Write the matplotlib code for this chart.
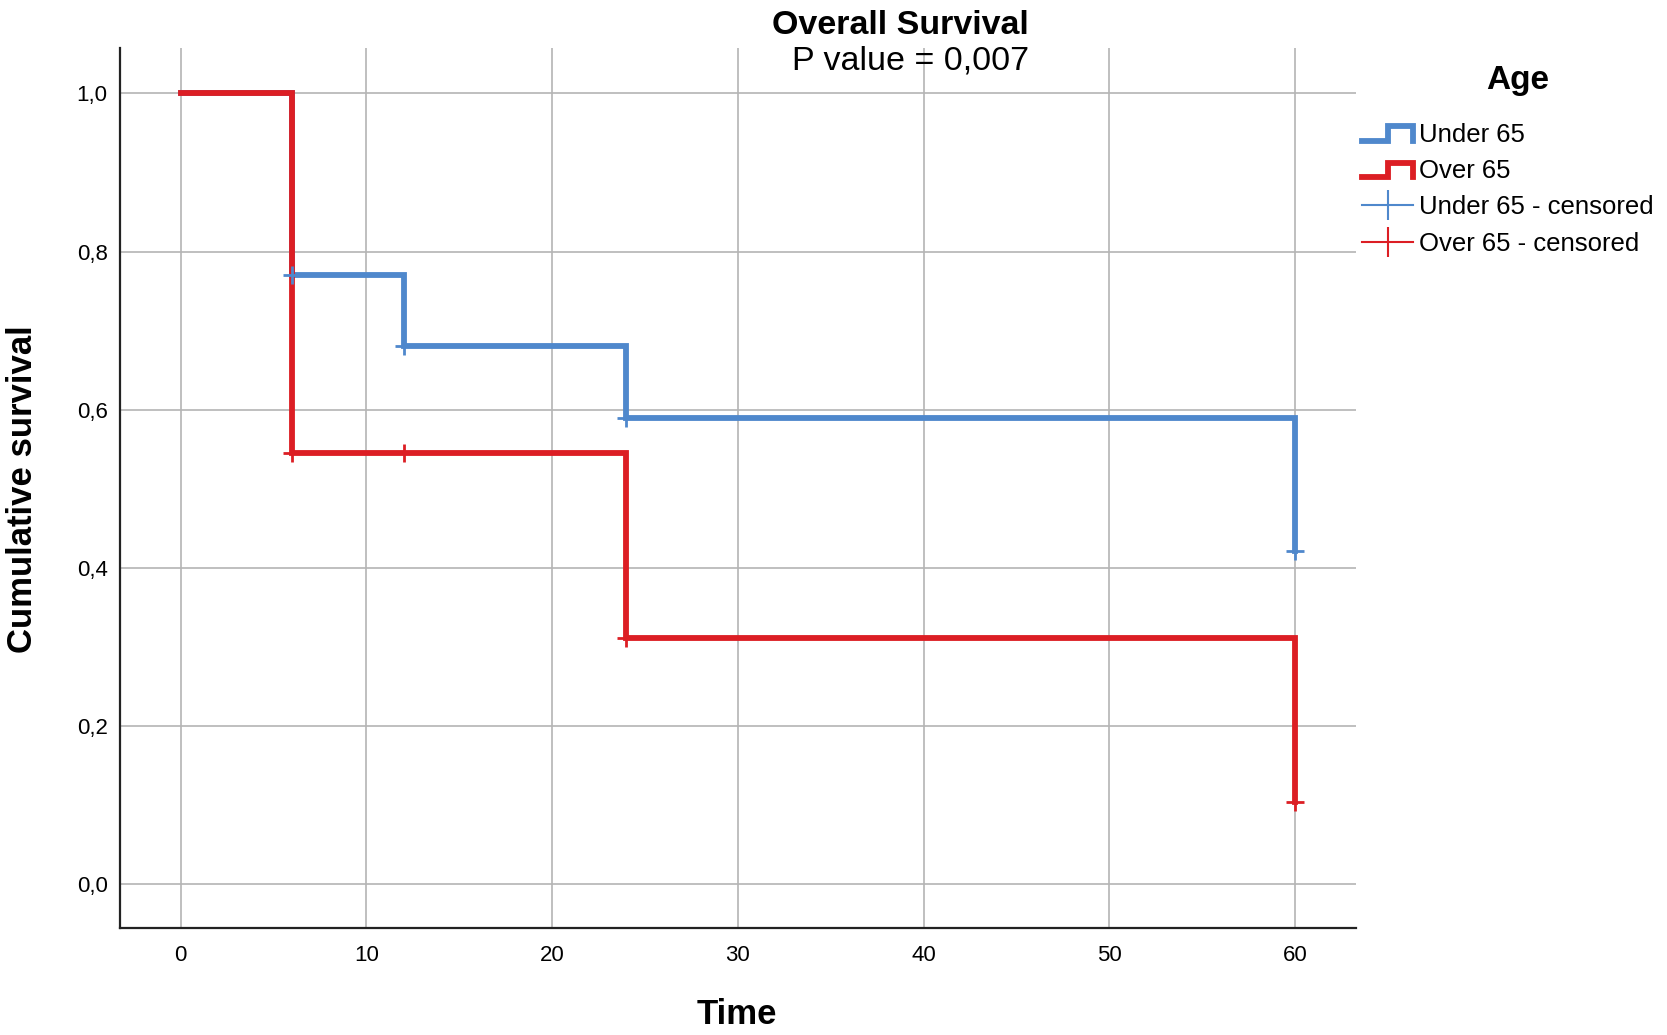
import matplotlib
matplotlib.use("Agg")
import matplotlib.pyplot as plt
from matplotlib.lines import Line2D
from matplotlib.legend_handler import HandlerBase

plt.rcParams['font.family'] = ['Liberation Sans', 'DejaVu Sans']

# ---- data ----
under_times = [0, 6, 12, 24, 60]
under_surv = [1.0, 0.771, 0.681, 0.590, 0.422]
under_cens_t = [6, 12, 24, 60]
under_cens_s = [0.771, 0.681, 0.590, 0.422]

over_times = [0, 6, 24, 60]
over_surv = [1.0, 0.545, 0.312, 0.104]
over_cens_t = [6, 12, 24, 60]
over_cens_s = [0.545, 0.545, 0.312, 0.104]

x_ticks = [0, 10, 20, 30, 40, 50, 60]
y_ticks = [0.0, 0.2, 0.4, 0.6, 0.8, 1.0]
y_ticklabels = ["0,0", "0,2", "0,4", "0,6", "0,8", "1,0"]

labels = ["Under 65", "Over 65", "Under 65 - censored", "Over 65 - censored"]
BLUE = "#4f88cc"
RED = "#dc1e24"

W, H = 1667, 1035
fig = plt.figure(figsize=(W / 100, H / 100), dpi=100)
ax = fig.add_axes([120 / W, 1 - 928 / H, (1355.5 - 120) / W, (928 - 48) / H])

ax.set_xlim(-3.27, 63.26)
ax.set_ylim(-0.055, 1.0575)

ax.grid(True, color="#b4b4b4", linewidth=1.2, zorder=0)
ax.set_axisbelow(True)

lu, = ax.step(under_times, under_surv, where="post", color=BLUE, lw=4.2,
              solid_joinstyle="miter", zorder=2)
lo, = ax.step(over_times, over_surv, where="post", color=RED, lw=4.2,
              solid_joinstyle="miter", zorder=3)
cu, = ax.plot(under_cens_t, under_cens_s, ls="none", marker="+", ms=13, mew=2,
              color=BLUE, zorder=4)
co, = ax.plot(over_cens_t, over_cens_s, ls="none", marker="+", ms=13, mew=2,
              color=RED, zorder=4)

ax.set_xticks(x_ticks)
ax.set_xticklabels([str(t) for t in x_ticks])
ax.set_yticks(y_ticks)
ax.set_yticklabels(y_ticklabels)
ax.tick_params(axis="both", length=0, labelsize=16)
ax.tick_params(axis="x", pad=12)
ax.tick_params(axis="y", pad=9)

for s in ["top", "right"]:
    ax.spines[s].set_visible(False)
for s in ["left", "bottom"]:
    ax.spines[s].set_linewidth(1.6)
    ax.spines[s].set_color("#222222")

fig.text(23 / W, 1 - 489 / H, "Cumulative survival", rotation=90, fontsize=25,
         fontweight="bold", ha="center", va="center")
fig.text(737 / W, 1 - 1015 / H, "Time", fontsize=25, fontweight="bold",
         ha="center", va="center")
fig.text(1029 / W, 1 - 25 / H, "Overall Survival", fontsize=24.5,
         fontweight="bold", ha="right", va="center")
fig.text(1029 / W, 1 - 61 / H, "P value = 0,007", fontsize=24.5,
         ha="right", va="center")

# legend title
fig.text(1518 / W, 1 - 80 / H, "Age", fontsize=24, fontweight="bold",
         ha="center", va="center")


class StepHandler(HandlerBase):
    def create_artists(self, legend, orig_handle, xdescent, ydescent, width,
                       height, fontsize, trans):
        x0, y0 = -xdescent, -ydescent
        xm = x0 + 0.5 * width
        lo_y = y0 + 0.05 * height
        hi_y = y0 + 0.85 * height
        xs = [x0, xm, xm, x0 + width, x0 + width]
        ys = [lo_y, lo_y, hi_y, hi_y, lo_y]
        ln = Line2D(xs, ys, color=orig_handle.get_color(),
                    lw=orig_handle.get_linewidth(), solid_joinstyle="miter")
        ln.set_transform(trans)
        return [ln]


h_cu = Line2D([], [], color=BLUE, lw=1.5, marker="|", ms=22, mew=1.5)
h_co = Line2D([], [], color=RED, lw=1.5, marker="|", ms=22, mew=1.5)

leg = fig.legend([lu, lo, h_cu, h_co], labels,
                 handler_map={lu: StepHandler(), lo: StepHandler()},
                 loc="upper left", bbox_to_anchor=(1362 / W, 1 - 122.5 / H),
                 frameon=False, fontsize=18.5,
                 handlelength=2.0, handletextpad=0.2, labelspacing=0.485,
                 borderpad=0, borderaxespad=0, numpoints=1)

fig.savefig("out.png", dpi=100)
